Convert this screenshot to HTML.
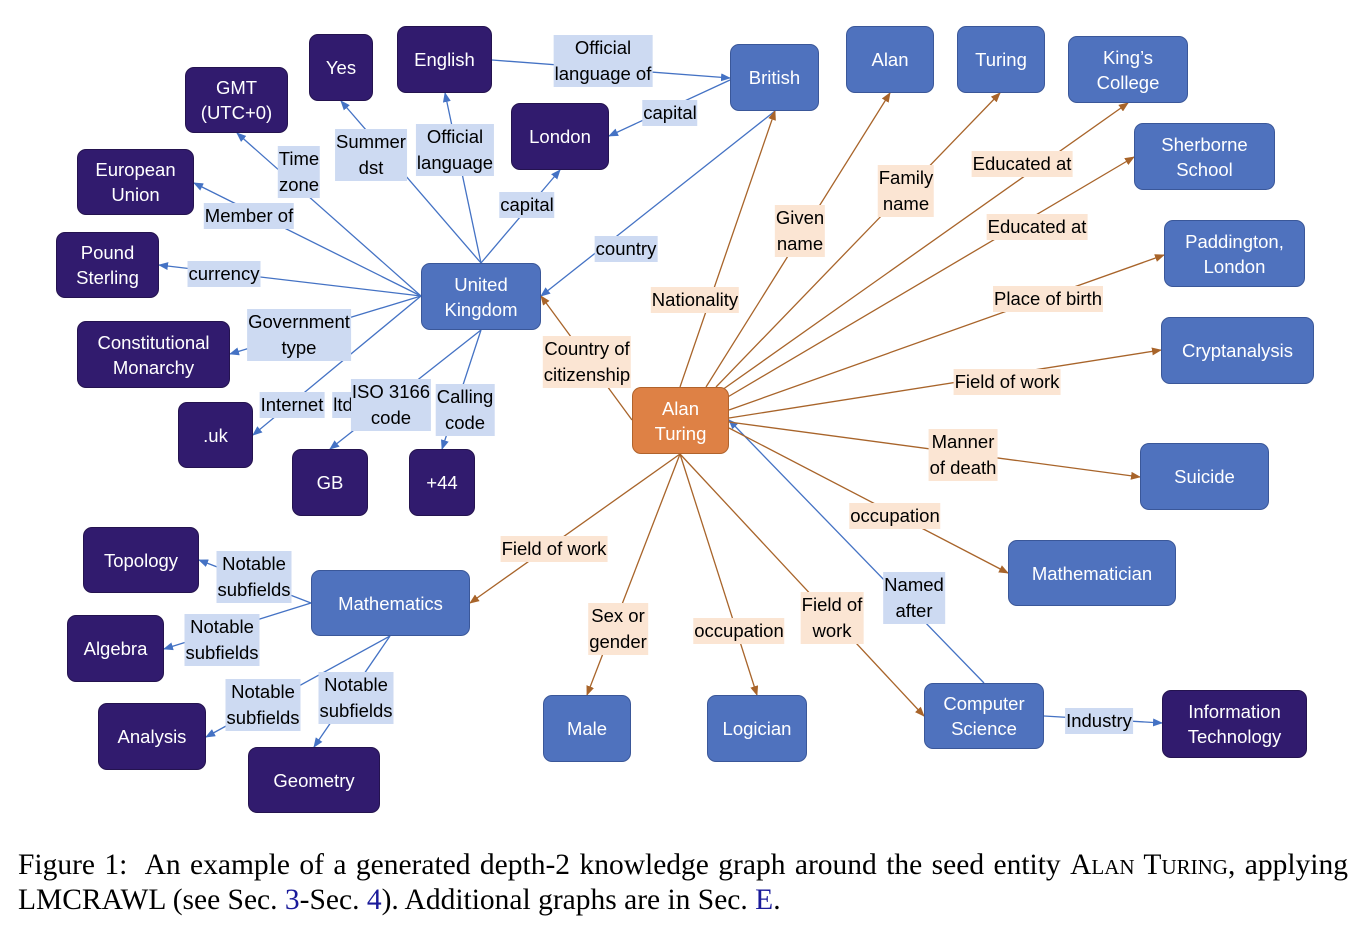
<!DOCTYPE html>
<html><head><meta charset="utf-8">
<style>
body{margin:0;background:#fff;width:1362px;height:926px;position:relative;overflow:hidden;font-family:"Liberation Sans",sans-serif}
svg{position:absolute;left:0;top:0}
.n{position:absolute;display:flex;align-items:center;justify-content:center;text-align:center;color:#fff;font-size:18.5px;line-height:25px;border-radius:9px;box-sizing:border-box}
.d{background:#311b6e;border:1.5px solid #24134f}
.b{background:#4f72be;border:1.5px solid #3a5799}
.o{background:#de8145;border:1.5px solid #b0632c}
.l{position:absolute;transform:translate(-50%,-50%);font-size:18.5px;line-height:26px;color:#000;text-align:center;white-space:nowrap;padding:0 1px}
.lb{background:#cddaf2}
.lo{background:#fbe5d3}
.cap{position:absolute;left:18px;width:1330px;font-family:"Liberation Serif",serif;font-size:29.5px;color:#000;white-space:nowrap}
.sc{font-variant:small-caps}
.lk{color:#1a1a9a}
</style></head><body>
<svg width="1362" height="926">
<defs>
<marker id="mb" markerWidth="10" markerHeight="8" refX="9" refY="4" orient="auto" markerUnits="userSpaceOnUse"><path d="M0,0L10,4L0,8z" fill="#4472c4"/></marker>
<marker id="mo" markerWidth="10" markerHeight="8" refX="9" refY="4" orient="auto" markerUnits="userSpaceOnUse"><path d="M0,0L10,4L0,8z" fill="#a8642a"/></marker>
</defs>
<g stroke="#4472c4" stroke-width="1.3" fill="none" marker-end="url(#mb)">
<line x1="481" y1="263" x2="341" y2="101"/>
<line x1="481" y1="263" x2="445" y2="93"/>
<line x1="421" y1="296" x2="237" y2="133"/>
<line x1="421" y1="296" x2="194" y2="183"/>
<line x1="421" y1="296" x2="159" y2="265"/>
<line x1="421" y1="296" x2="230" y2="354"/>
<line x1="421" y1="296" x2="253" y2="435"/>
<line x1="481" y1="330" x2="330" y2="449"/>
<line x1="481" y1="330" x2="442" y2="449"/>
<line x1="481" y1="263" x2="560" y2="170"/>
<line x1="775" y1="111" x2="541" y2="296"/>
<line x1="492" y1="60" x2="730" y2="78"/>
<line x1="730" y1="80" x2="609" y2="136"/>
<line x1="984" y1="683" x2="729" y2="420"/>
<line x1="1044" y1="716" x2="1162" y2="723"/>
<line x1="311" y1="603" x2="199" y2="560"/>
<line x1="311" y1="603" x2="164" y2="649"/>
<line x1="390" y1="636" x2="206" y2="737"/>
<line x1="390" y1="636" x2="314" y2="747"/>
</g>
<g stroke="#a8642a" stroke-width="1.3" fill="none" marker-end="url(#mo)">
<line x1="680" y1="387" x2="775" y2="111"/>
<line x1="632" y1="420" x2="541" y2="296"/>
<line x1="706" y1="387" x2="890" y2="93"/>
<line x1="716" y1="387" x2="1000" y2="93"/>
<line x1="722" y1="390" x2="1128" y2="103"/>
<line x1="726" y1="398" x2="1134" y2="157"/>
<line x1="729" y1="410" x2="1164" y2="255"/>
<line x1="729" y1="418" x2="1161" y2="350"/>
<line x1="729" y1="422" x2="1140" y2="477"/>
<line x1="729" y1="428" x2="1008" y2="573"/>
<line x1="680" y1="454" x2="924" y2="716"/>
<line x1="680" y1="454" x2="757" y2="695"/>
<line x1="680" y1="454" x2="587" y2="695"/>
<line x1="680" y1="454" x2="470" y2="603"/>
</g>
</svg>

<div class="n d" style="left:309px;top:34px;width:64px;height:67px">Yes</div>
<div class="n d" style="left:397px;top:26px;width:95px;height:67px">English</div>
<div class="n d" style="left:185px;top:67px;width:103px;height:66px">GMT<br>(UTC+0)</div>
<div class="n d" style="left:77px;top:149px;width:117px;height:66px">European<br>Union</div>
<div class="n d" style="left:56px;top:232px;width:103px;height:66px">Pound<br>Sterling</div>
<div class="n d" style="left:77px;top:321px;width:153px;height:67px">Constitutional<br>Monarchy</div>
<div class="n d" style="left:178px;top:402px;width:75px;height:66px">.uk</div>
<div class="n d" style="left:292px;top:449px;width:76px;height:67px">GB</div>
<div class="n d" style="left:409px;top:449px;width:66px;height:67px">+44</div>
<div class="n d" style="left:511px;top:103px;width:98px;height:67px">London</div>
<div class="n d" style="left:83px;top:527px;width:116px;height:66px">Topology</div>
<div class="n d" style="left:67px;top:615px;width:97px;height:67px">Algebra</div>
<div class="n d" style="left:98px;top:703px;width:108px;height:67px">Analysis</div>
<div class="n d" style="left:248px;top:747px;width:132px;height:66px">Geometry</div>
<div class="n d" style="left:1162px;top:690px;width:145px;height:68px">Information<br>Technology</div>

<div class="n b" style="left:421px;top:263px;width:120px;height:67px">United<br>Kingdom</div>
<div class="n b" style="left:730px;top:44px;width:89px;height:67px">British</div>
<div class="n b" style="left:846px;top:26px;width:88px;height:67px">Alan</div>
<div class="n b" style="left:957px;top:26px;width:88px;height:67px">Turing</div>
<div class="n b" style="left:1068px;top:36px;width:120px;height:67px">King’s<br>College</div>
<div class="n b" style="left:1134px;top:123px;width:141px;height:67px">Sherborne<br>School</div>
<div class="n b" style="left:1164px;top:220px;width:141px;height:67px">Paddington,<br>London</div>
<div class="n b" style="left:1161px;top:317px;width:153px;height:67px">Cryptanalysis</div>
<div class="n b" style="left:1140px;top:443px;width:129px;height:67px">Suicide</div>
<div class="n b" style="left:1008px;top:540px;width:168px;height:66px">Mathematician</div>
<div class="n b" style="left:311px;top:570px;width:159px;height:66px">Mathematics</div>
<div class="n b" style="left:543px;top:695px;width:88px;height:67px">Male</div>
<div class="n b" style="left:707px;top:695px;width:100px;height:67px">Logician</div>
<div class="n b" style="left:924px;top:683px;width:120px;height:66px">Computer<br>Science</div>
<div class="n o" style="left:632px;top:387px;width:97px;height:67px">Alan<br>Turing</div>

<div class="l lb" style="left:371px;top:155px">Summer<br>dst</div>
<div class="l lb" style="left:455px;top:150px">Official<br>language</div>
<div class="l lb" style="left:299px;top:172px">Time<br>zone</div>
<div class="l lb" style="left:249px;top:216px">Member of</div>
<div class="l lb" style="left:224px;top:274px">currency</div>
<div class="l lb" style="left:299px;top:335px">Government<br>type</div>
<div class="l lb" style="left:292px;top:405px">Internet</div>
<div class="l lb" style="left:343px;top:405px">ltd</div>
<div class="l lb" style="left:391px;top:405px">ISO 3166<br>code</div>
<div class="l lb" style="left:465px;top:410px">Calling<br>code</div>
<div class="l lb" style="left:527px;top:205px">capital</div>
<div class="l lb" style="left:626px;top:249px">country</div>
<div class="l lb" style="left:603px;top:61px">Official<br>language of</div>
<div class="l lb" style="left:670px;top:113px">capital</div>
<div class="l lb" style="left:914px;top:598px">Named<br>after</div>
<div class="l lb" style="left:1099px;top:721px">Industry</div>
<div class="l lb" style="left:254px;top:577px">Notable<br>subfields</div>
<div class="l lb" style="left:222px;top:640px">Notable<br>subfields</div>
<div class="l lb" style="left:263px;top:705px">Notable<br>subfields</div>
<div class="l lb" style="left:356px;top:698px">Notable<br>subfields</div>

<div class="l lo" style="left:695px;top:300px">Nationality</div>
<div class="l lo" style="left:587px;top:362px">Country of<br>citizenship</div>
<div class="l lo" style="left:800px;top:231px">Given<br>name</div>
<div class="l lo" style="left:906px;top:191px">Family<br>name</div>
<div class="l lo" style="left:1022px;top:164px">Educated at</div>
<div class="l lo" style="left:1037px;top:227px">Educated at</div>
<div class="l lo" style="left:1048px;top:299px">Place of birth</div>
<div class="l lo" style="left:1007px;top:382px">Field of work</div>
<div class="l lo" style="left:963px;top:455px">Manner<br>of death</div>
<div class="l lo" style="left:895px;top:516px">occupation</div>
<div class="l lo" style="left:832px;top:618px">Field of<br>work</div>
<div class="l lo" style="left:739px;top:631px">occupation</div>
<div class="l lo" style="left:618px;top:629px">Sex or<br>gender</div>
<div class="l lo" style="left:554px;top:549px">Field of work</div>

<div class="cap" style="top:849px;text-align:justify;text-align-last:justify">Figure 1:&nbsp; An example of a generated depth-2 knowledge graph around the seed entity <span class="sc">Alan Turing</span>, applying</div>
<div class="cap" style="top:884px">LMCRAWL (see Sec. <span class="lk">3</span>-Sec. <span class="lk">4</span>). Additional graphs are in Sec. <span class="lk">E</span>.</div>
</body></html>
